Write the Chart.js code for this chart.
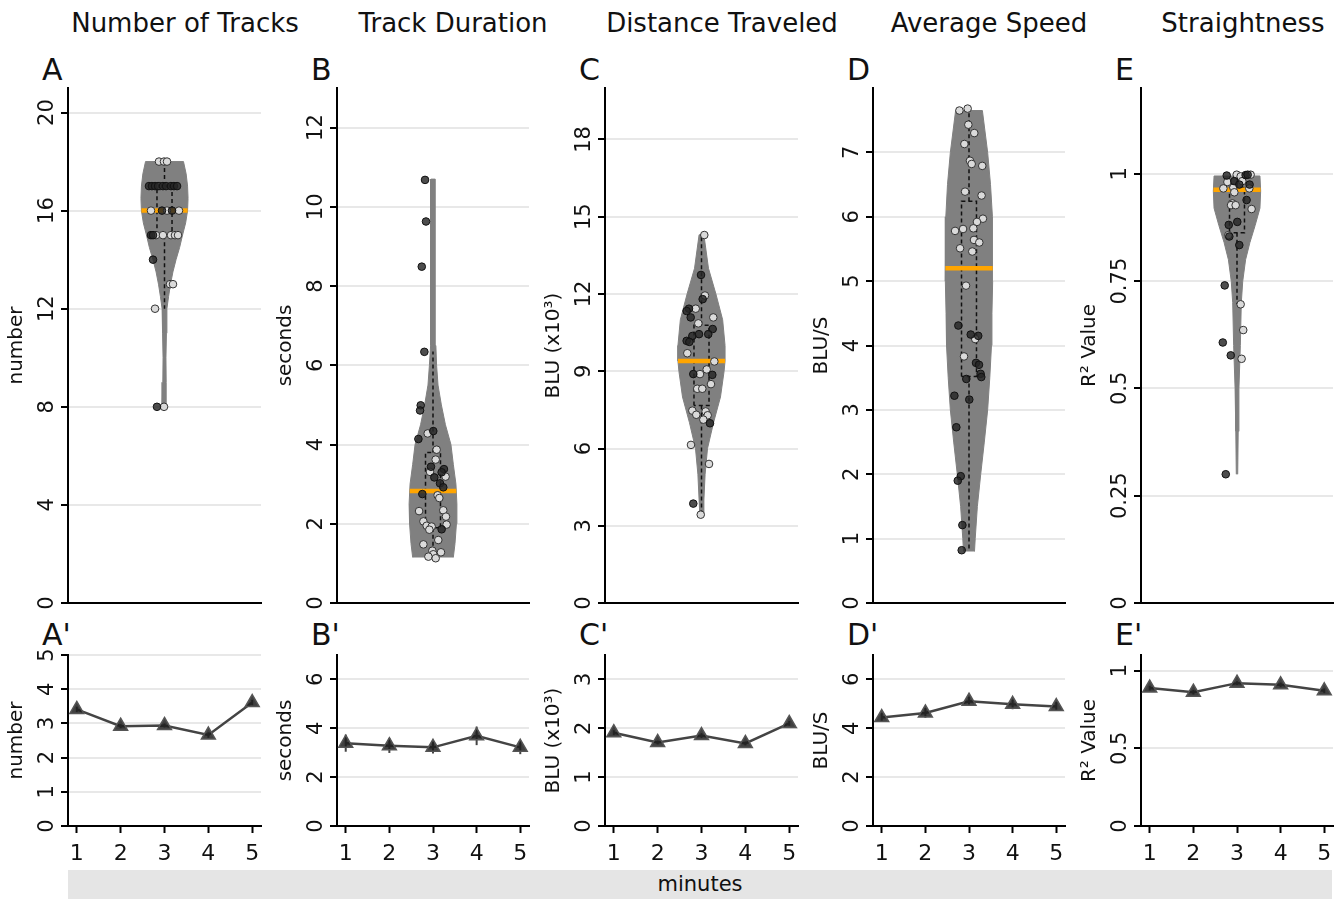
<!DOCTYPE html>
<html>
<head>
<meta charset="utf-8">
<script src="https://cdn.jsdelivr.net/npm/chart.js@4.4.1/dist/chart.umd.min.js"></script>
<style>
  body { margin: 0; background: #fff; }
  #fig { position: relative; width: 1344px; height: 899px; overflow: hidden; font-family: 'DejaVu Sans', Verdana, sans-serif; color: #111; }
  .ttl { position: absolute; width: 300px; text-align: center; font-size: 26px; line-height: 1; top: 10px; white-space: nowrap; }
  .let { position: absolute; font-size: 30px; line-height: 1; }
  #minutes { position: absolute; left: 68px; top: 870px; width: 1264px; height: 29px; background: #e5e5e5; text-align: center; font-size: 21px; line-height: 29px; }
</style>
</head>
<body>
<div id="fig"></div>
<script>
const FONT = "'DejaVu Sans', Verdana, sans-serif";
Chart.defaults.font.family = FONT;
Chart.defaults.color = '#111';

// ---- labels
const titles = ['Number of Tracks', 'Track Duration', 'Distance Traveled', 'Average Speed', 'Straightness'];
const yTitles = ['number', 'seconds', 'BLU (x10³)', 'BLU/S', 'R² Value'];
const letters = ['A', 'B', 'C', 'D', 'E'];

// ---- top row: violin outlines (value, relative density)
const violinAY = [8, 9, 10, 11, 12, 12.5, 13, 13.5, 14, 14.5, 15, 15.5, 16, 16.5, 17, 17.5, 18];
const violinAD = [0.10, 0.07, 0.06, 0.08, 0.10, 0.17, 0.25, 0.35, 0.48, 0.63, 0.75, 0.88, 0.96, 0.98, 0.96, 0.90, 0.79];
const violinBY = [1.15, 1.5, 2, 2.5, 3, 3.5, 4, 4.5, 5, 5.5, 6, 6.5, 7, 8, 9, 10, 10.7];
const violinBD = [0.85, 0.92, 0.98, 1.0, 0.96, 0.85, 0.75, 0.52, 0.35, 0.21, 0.15, 0.12, 0.10, 0.095, 0.095, 0.09, 0.085];
const violinCY = [3.4, 4, 5, 6, 7, 8, 9, 9.4, 10, 11, 12, 13, 14.3];
const violinCD = [0.07, 0.10, 0.15, 0.25, 0.50, 0.79, 0.94, 0.98, 0.98, 0.88, 0.60, 0.29, 0.10];
const violinDY = [0.8, 1, 1.5, 2, 2.5, 3, 3.5, 4, 4.5, 5, 5.5, 6, 6.5, 7, 7.65];
const violinDD = [0.23, 0.26, 0.35, 0.49, 0.64, 0.78, 0.87, 0.94, 0.96, 0.99, 0.99, 0.97, 0.90, 0.78, 0.56];
const violinEY = [0.30, 0.4, 0.5, 0.6, 0.7, 0.75, 0.8, 0.84, 0.88, 0.92, 0.96, 0.995];
const violinED = [0.03, 0.05, 0.08, 0.14, 0.18, 0.24, 0.36, 0.54, 0.76, 0.96, 0.99, 0.96];

// ---- box stats: [lower whisker, q1, median, q3, upper whisker]
const boxA = [12, 15, 16, 17, 18];
const boxB = [1.13, 1.9, 2.83, 3.8, 6.35];
const boxC = [3.43, 7.67, 9.4, 10.79, 14.29];
const boxD = [0.82, 3.52, 5.2, 6.24, 7.68];
const boxE = [0.696, 0.863, 0.963, 0.968, 0.998];

// ---- jittered points [jitter, value]
const darkA = [[-0.161,17],[-0.130,17],[-0.098,17],[-0.067,17],[-0.016,17],[0.016,17],[0.067,17],[0.098,17],[0.130,17],[-0.026,16],[0.078,16],[-0.140,15],[-0.119,15],[-0.119,14],[-0.078,8]];
const lightA = [[-0.057,18],[-0.005,18],[0.026,18],[-0.047,17],[-0.140,16],[0.026,16],[0.150,16],[-0.088,15],[-0.016,15],[0.067,15],[0.109,15],[0.140,15],[0.057,13],[0.088,13],[-0.098,12],[-0.005,8]];
const darkB = [[-0.083,10.68],[-0.073,9.63],[-0.117,8.49],[-0.090,6.34],[-0.128,4.99],[-0.135,4.86],[-0.152,4.14],[0.003,4.34],[-0.021,3.44],[0.014,3.17],[0.114,3.38],[0.090,3.30],[0.073,3.02],[0.107,2.92],[-0.111,2.75],[0.090,1.86]];
const lightB = [[-0.055,4.28],[0.038,3.87],[0.028,3.62],[-0.031,3.31],[0.131,3.19],[0.048,2.72],[0.066,2.65],[-0.145,2.32],[0.107,2.34],[0.135,2.18],[-0.100,2.06],[-0.066,1.95],[-0.014,1.93],[0.142,1.98],[-0.038,1.85],[0.055,1.59],[-0.100,1.48],[-0.007,1.32],[0.083,1.28],[0.003,1.23],[-0.048,1.17],[0.028,1.13]];
const darkC = [[-0.005,12.74],[0.012,11.80],[-0.130,11.43],[-0.154,11.34],[-0.112,11.09],[0.116,10.64],[-0.095,10.37],[-0.026,10.44],[0.070,10.44],[-0.154,10.18],[-0.126,10.14],[-0.085,8.89],[0.112,8.86],[0.088,6.98],[-0.085,3.86]];
const lightC = [[0.029,14.29],[0.036,11.94],[-0.060,11.43],[0.122,11.09],[-0.033,10.86],[-0.147,9.70],[0.133,9.38],[0.054,9.07],[-0.016,8.89],[0.098,8.50],[-0.044,8.32],[0.008,8.32],[-0.095,7.47],[-0.054,7.31],[0.043,7.44],[0.064,7.29],[0.019,7.12],[-0.109,6.14],[0.078,5.40],[-0.008,3.43]];
const darkD = [[-0.111,4.31],[0.018,4.17],[0.096,4.15],[0.073,3.73],[0.104,3.70],[0.121,3.56],[0.128,3.51],[-0.028,3.48],[-0.152,3.22],[0.003,3.16],[-0.132,2.73],[-0.086,1.97],[-0.117,1.90],[-0.069,1.21],[-0.076,0.82]];
const lightD = [[-0.100,7.65],[-0.014,7.68],[-0.007,7.43],[0.055,7.30],[-0.048,7.13],[0.010,6.87],[0.028,6.82],[0.138,6.79],[-0.041,6.39],[0.131,6.33],[0.145,5.97],[0.083,5.92],[-0.145,5.78],[-0.062,5.81],[0.045,5.82],[0.052,5.64],[0.107,5.60],[-0.093,5.51],[0.034,5.46],[-0.031,4.93],[0.065,4.10],[-0.052,3.83]];
const darkE = [[-0.107,0.996],[0.090,0.997],[0.111,0.998],[-0.028,0.983],[0.024,0.975],[0.131,0.975],[0.100,0.939],[0.003,0.888],[-0.086,0.881],[-0.080,0.854],[0.024,0.834],[-0.128,0.740],[-0.148,0.607],[-0.065,0.577],[-0.117,0.300]];
const lightE = [[-0.003,0.998],[0.038,0.994],[0.142,0.998],[-0.100,0.981],[0.055,0.983],[-0.142,0.966],[-0.038,0.968],[0.128,0.966],[-0.028,0.957],[-0.048,0.931],[-0.062,0.927],[-0.014,0.927],[0.152,0.918],[-0.090,0.857],[0.038,0.696],[0.065,0.636],[0.048,0.569]];

// ---- top row axes
const topMax = [21, 13, 20, 8, 1.2];
const ticksA = [0, 4, 8, 12, 16, 20];
const ticksB = [0, 2, 4, 6, 8, 10, 12];
const ticksC = [0, 3, 6, 9, 12, 15, 18];
const ticksD = [0, 1, 2, 3, 4, 5, 6, 7];
const ticksE = [0, 0.25, 0.5, 0.75, 1];

// ---- bottom row: per-minute means and error
const minutes = [1, 2, 3, 4, 5];
const meanA = [3.41, 2.92, 2.94, 2.66, 3.61];
const errA = [0.08, 0.06, 0.06, 0.08, 0.08];
const meanB = [3.39, 3.29, 3.22, 3.69, 3.22];
const errB = [0.35, 0.30, 0.25, 0.38, 0.28];
const meanC = [1.91, 1.71, 1.85, 1.69, 2.10];
const errC = [0.05, 0.04, 0.05, 0.04, 0.05];
const meanD = [4.44, 4.63, 5.11, 4.98, 4.89];
const errD = [0.18, 0.20, 0.18, 0.20, 0.18];
const meanE = [0.887, 0.861, 0.919, 0.908, 0.870];
const errE = [0.015, 0.015, 0.012, 0.015, 0.015];
const botMax = [5, 7, 3.5, 7, 1.1];
const bTicksA = [0, 1, 2, 3, 4, 5];
const bTicksB = [0, 2, 4, 6];
const bTicksC = [0, 1, 2, 3];
const bTicksD = [0, 2, 4, 6];
const bTicksE = [0, 0.5, 1];

const panels = [
  {vy: violinAY, vd: violinAD, box: boxA, dark: darkA, light: lightA, ticks: ticksA, mean: meanA, err: errA, bTicks: bTicksA},
  {vy: violinBY, vd: violinBD, box: boxB, dark: darkB, light: lightB, ticks: ticksB, mean: meanB, err: errB, bTicks: bTicksB},
  {vy: violinCY, vd: violinCD, box: boxC, dark: darkC, light: lightC, ticks: ticksC, mean: meanC, err: errC, bTicks: bTicksC},
  {vy: violinDY, vd: violinDD, box: boxD, dark: darkD, light: lightD, ticks: ticksD, mean: meanD, err: errD, bTicks: bTicksD},
  {vy: violinEY, vd: violinED, box: boxE, dark: darkE, light: lightE, ticks: ticksE, mean: meanE, err: errE, bTicks: bTicksE}
];

// layout
const axisX = [68, 337, 605, 873, 1141];
const plotW = [193, 192, 193, 192, 192];
const titleX = [185, 453, 722, 989, 1243];
const LEFT = 68, PAD_TOP = 20, PAD_RIGHT = 10;
const VIOLIN_HALF = 0.249, BOX_HALF = 0.078;
const TICK_SIZE = 21;

const fig = document.getElementById('fig');

function addCanvas(left, top, w, h) {
  const c = document.createElement('canvas');
  c.width = w; c.height = h;
  c.style.cssText = `position:absolute;left:${left}px;top:${top}px;width:${w}px;height:${h}px`;
  fig.appendChild(c);
  return c;
}

function addText(cls, text, left, top) {
  const d = document.createElement('div');
  d.className = cls;
  d.textContent = text;
  d.style.left = left + 'px';
  d.style.top = top + 'px';
  fig.appendChild(d);
}

const measureCtx = document.createElement('canvas').getContext('2d');
// rotated tick labels: keep their centre ~20px left of the axis
function tickPad(ticks) {
  measureCtx.font = `${TICK_SIZE}px ${FONT}`;
  const widest = Math.max(...ticks.map(t => measureCtx.measureText(String(t)).width));
  return 20 - 7 - widest / 2;
}

// keep the plot area fixed: no label overhang padding from the scales
function noOverhang(s) {
  s.paddingTop = 0; s.paddingBottom = 0; s.paddingLeft = 0; s.paddingRight = 0;
}

function yAxis(ticks, max, title) {
  return {
    type: 'linear', min: 0, max: max,
    afterBuildTicks: s => { s.ticks = ticks.map(v => ({value: v})); },
    afterFit: s => { s.width = LEFT; noOverhang(s); },
    border: {color: '#000', width: 2},
    grid: {color: '#e8e8e8', lineWidth: 2, tickColor: '#000', tickLength: 7, tickWidth: 2},
    ticks: {minRotation: 90, maxRotation: 90, crossAlign: 'center', padding: tickPad(ticks),
      font: {size: TICK_SIZE}, color: '#111', callback: v => String(v)},
    title: {display: true, text: title, font: {size: 20}, color: '#111', padding: {top: 5, bottom: 0}}
  };
}

function widthAt(ys, ds, v) {
  for (let i = 1; i < ys.length; i++) {
    if (v <= ys[i]) {
      const t = (v - ys[i - 1]) / (ys[i] - ys[i - 1]);
      return (ds[i - 1] + t * (ds[i] - ds[i - 1])) * VIOLIN_HALF;
    }
  }
  return ds[ds.length - 1] * VIOLIN_HALF;
}

function lineSet(data, color, width, dash, order) {
  return {data: data, showLine: true, borderColor: color, borderWidth: width, borderDash: dash,
    pointRadius: 0, fill: false, order: order};
}

const baseOptions = {
  responsive: false, animation: false, events: [],
  plugins: {legend: {display: false}, tooltip: {enabled: false}}
};

panels.forEach((p, i) => {
  addText('ttl', titles[i], titleX[i] - 150, 10);
  addText('let', letters[i], axisX[i] - 26, 55);
  addText('let', letters[i] + "'", axisX[i] - 26, 620);

  // --- violin panel
  const [lo, q1, med, q3, hi] = p.box;
  const right = p.vy.map((y, k) => ({x: p.vd[k] * VIOLIN_HALF, y: y}));
  const left = p.vy.map((y, k) => ({x: -p.vd[k] * VIOLIN_HALF, y: y})).reverse();
  const mw = widthAt(p.vy, p.vd, med);
  const topW = LEFT + plotW[i] + PAD_RIGHT;
  new Chart(addCanvas(axisX[i] - LEFT, 88 - PAD_TOP, topW, PAD_TOP + 515 + 8), {
    type: 'scatter',
    data: {datasets: [
      {data: p.dark.map(([x, y]) => ({x, y})), pointRadius: 3.8, pointBackgroundColor: 'rgba(38,38,38,0.82)',
        pointBorderColor: '#111', pointBorderWidth: 1, order: 0},
      {data: p.light.map(([x, y]) => ({x, y})), pointRadius: 3.8, pointBackgroundColor: '#dadada',
        pointBorderColor: '#333', pointBorderWidth: 1, order: 0},
      lineSet([{x: -mw, y: med}, {x: mw, y: med}], '#ffa500', 4.5, [], 1),
      lineSet([{x: -BOX_HALF, y: q1}, {x: -BOX_HALF, y: q3}, {x: BOX_HALF, y: q3}, {x: BOX_HALF, y: q1}, {x: -BOX_HALF, y: q1}], '#111', 1.5, [4, 3], 2),
      lineSet([{x: 0, y: q3}, {x: 0, y: hi}], '#111', 1.5, [4, 3], 2),
      lineSet([{x: 0, y: q1}, {x: 0, y: lo}], '#111', 1.5, [4, 3], 2),
      {data: right.concat(left), showLine: true, fill: 'shape', backgroundColor: '#808080',
        borderColor: '#808080', borderWidth: 1, pointRadius: 0, order: 3}
    ]},
    options: Object.assign({}, baseOptions, {
      layout: {padding: {top: PAD_TOP, right: PAD_RIGHT, left: 0, bottom: 0}},
      scales: {
        x: {type: 'linear', min: -1, max: 1, afterFit: s => { s.height = 8; noOverhang(s); },
          grid: {display: false}, ticks: {display: false}, border: {color: '#000', width: 2}},
        y: yAxis(p.ticks, topMax[i], yTitles[i])
      }
    })
  });

  // --- minutes panel
  const errSets = minutes.map((m, k) =>
    lineSet([{x: m, y: p.mean[k] - p.err[k]}, {x: m, y: p.mean[k] + p.err[k]}], '#444', 2, [], 1));
  new Chart(addCanvas(axisX[i] - LEFT, 655 - PAD_TOP, topW, PAD_TOP + 171 + 45), {
    type: 'scatter',
    data: {datasets: [
      {data: minutes.map((m, k) => ({x: m, y: p.mean[k]})), showLine: true, borderColor: '#444', borderWidth: 2.5,
        pointStyle: 'triangle', pointRadius: 8, pointBackgroundColor: 'rgba(30,30,30,0.85)',
        pointBorderColor: '#555', pointBorderWidth: 1.5, order: 0}
    ].concat(errSets)},
    options: Object.assign({}, baseOptions, {
      layout: {padding: {top: PAD_TOP, right: PAD_RIGHT, left: 0, bottom: 0}},
      scales: {
        x: {type: 'linear', min: 0.8, max: 5.2,
          afterBuildTicks: s => { s.ticks = minutes.map(v => ({value: v})); },
          afterFit: s => { s.height = 45; noOverhang(s); },
          border: {color: '#000', width: 2},
          grid: {drawOnChartArea: false, tickLength: 7, tickWidth: 2, tickColor: '#000'},
          ticks: {font: {size: 22}, padding: 8, maxRotation: 0, color: '#111'}},
        y: yAxis(p.bTicks, botMax[i], yTitles[i])
      }
    })
  });
});

const mins = document.createElement('div');
mins.id = 'minutes';
mins.textContent = 'minutes';
fig.appendChild(mins);
</script>
</body>
</html>
